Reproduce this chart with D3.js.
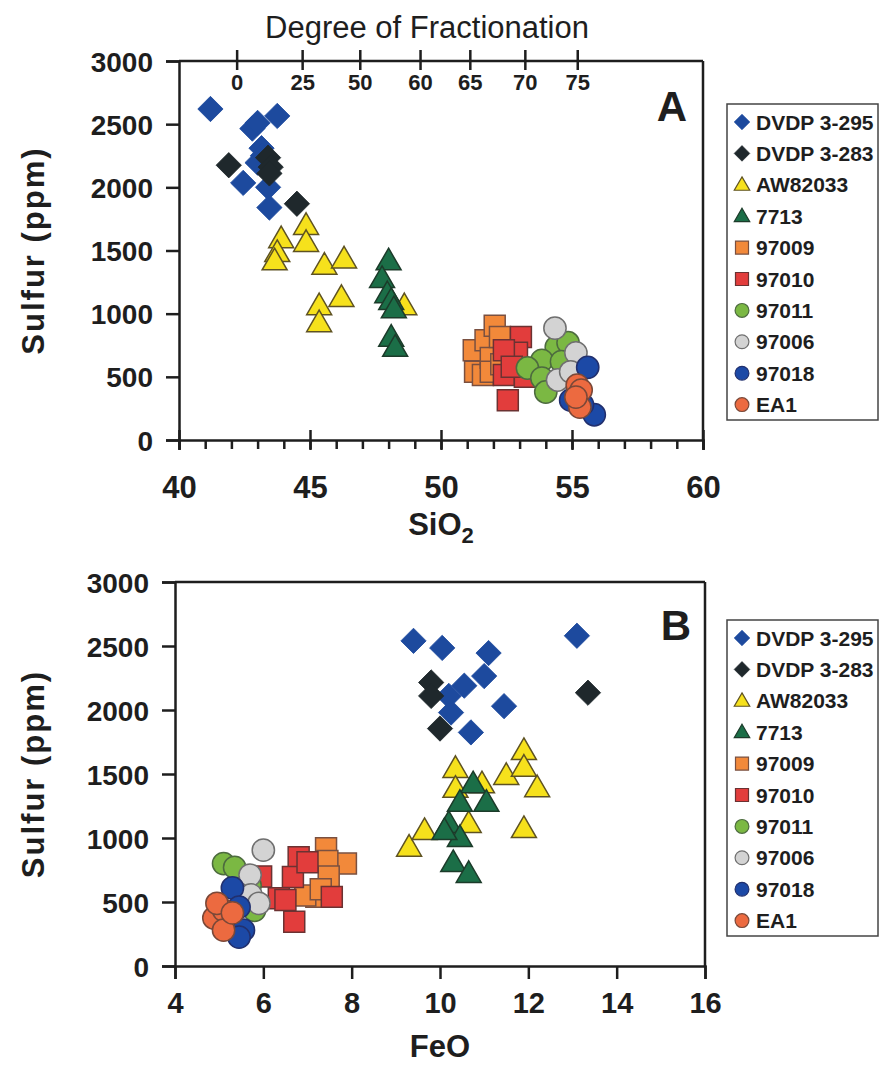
<!DOCTYPE html>
<html>
<head>
<meta charset="utf-8">
<script src="https://cdn.jsdelivr.net/npm/d3@7"></script>
<style>
  html, body { margin: 0; padding: 0; background: #ffffff; }
  svg { display: block; font-family: "Liberation Sans", Arial, Helvetica, sans-serif; }
</style>
</head>
<body>
<svg id="chart" width="880" height="1073"></svg>
<script>
// Sample series, legend order
const seriesNames = ["DVDP 3-295", "DVDP 3-283", "AW82033", "7713", "97009", "97010", "97011", "97006", "97018", "EA1"];
const seriesShapes = ["diamond", "diamond", "triangle", "triangle", "square", "square", "circle", "circle", "circle", "circle"];
const seriesFills = ["#1d4a9e", "#1f282c", "#f6e11c", "#1b6e47", "#f2893a", "#e23d3c", "#7bb843", "#d3d3d3", "#1c49a6", "#ec6a40"];
const seriesStrokes = ["#1d4a9e", "#1f282c", "#5e5222", "#1c3b2a", "#7a5040", "#6b3232", "#4d6b3f", "#6f6f6f", "#22306e", "#7a4838"];

// Panel A: [SiO2, S ppm]
const dvdp295_A = [[41.2,2620],[42.8,2465],[43.0,2510],[43.75,2565],[43.15,2310],[43.2,2250],[43.0,2195],[42.45,2035],[43.4,2000],[43.45,1840]];
const dvdp283_A = [[41.9,2175],[43.4,2235],[43.5,2160],[43.45,2110],[44.5,1870]];
const aw82033_A = [[44.85,1700],[44.85,1565],[43.9,1595],[43.75,1485],[43.65,1420],[45.55,1385],[46.3,1435],[46.2,1130],[45.35,1065],[45.35,930],[48.6,1065]];
const s7713_A = [[48.0,1420],[47.75,1280],[47.95,1160],[48.1,1105],[48.2,1040],[48.1,815],[48.25,735]];
const s97009_A = [[51.25,710],[51.3,540],[51.6,515],[51.7,790],[51.9,650],[52.05,905],[52.25,815],[51.9,540],[52.3,600]];
const s97010_A = [[53.05,815],[52.9,690],[52.4,710],[52.4,515],[53.2,500],[52.55,315],[52.7,580]];
const s97011_A = [[54.4,735],[54.85,770],[53.85,630],[53.3,570],[53.85,490],[54.0,380],[54.6,620]];
const s97006_A = [[54.35,885],[55.15,690],[54.45,475],[54.95,540]];
const s97018_A = [[55.6,575],[54.95,315],[55.85,200],[55.4,280]];
const ea1_A = [[55.2,435],[55.35,395],[55.3,260],[55.15,340]];

// Panel B: [FeO, S ppm]
const dvdp295_B = [[9.4,2540],[10.05,2485],[11.1,2445],[11.0,2265],[10.55,2190],[10.2,2110],[10.25,1980],[11.45,2030],[10.7,1825],[13.1,2580]];
const dvdp283_B = [[9.8,2215],[9.8,2110],[10.0,1855],[13.35,2135]];
const aw82033_B = [[9.3,930],[9.65,1060],[10.35,1545],[10.35,1390],[10.95,1425],[10.65,1115],[11.5,1490],[11.9,1685],[11.9,1555],[12.2,1395],[11.9,1075]];
const s7713_B = [[10.75,1425],[11.05,1280],[10.45,1280],[10.2,1115],[10.45,1005],[10.3,810],[10.65,725],[10.1,1060]];
const s97009_B = [[7.42,920],[7.87,800],[7.45,820],[7.48,700],[7.2,540],[6.95,550],[7.3,600]];
const s97010_B = [[6.8,850],[6.67,695],[7.0,810],[6.35,530],[6.5,515],[6.7,345],[7.55,540],[5.95,700]];
const s97011_B = [[5.1,800],[5.35,770],[5.7,630],[5.8,435]];
const s97006_B = [[6.0,905],[5.7,710],[5.72,555],[5.9,490]];
const s97018_B = [[5.3,610],[5.45,460],[5.55,280],[5.45,225]];
const ea1_B = [[4.88,375],[5.1,435],[5.1,280],[4.95,490],[5.3,415]];

// Axis ticks
const sulfurTicks = [0, 500, 1000, 1500, 2000, 2500, 3000];
const sio2Ticks = [40, 45, 50, 55, 60];
const feoTicks = [4, 6, 8, 10, 12, 14, 16];
const fracTicks = [0, 25, 50, 60, 65, 70, 75];
const fracSiO2 = [42.2, 44.7, 46.9, 49.2, 51.1, 53.2, 55.2];

const seriesA = [dvdp295_A, dvdp283_A, aw82033_A, s7713_A, s97009_A, s97010_A, s97011_A, s97006_A, s97018_A, ea1_A];
const seriesB = [dvdp295_B, dvdp283_B, aw82033_B, s7713_B, s97009_B, s97010_B, s97011_B, s97006_B, s97018_B, ea1_B];

const svg = d3.select("#chart");
const ink = "#1e1e1e";

function symbolPath(shape, scale) {
  const k = scale || 1;
  if (shape === "diamond") return d3.symbol(d3.symbolSquare, 320 * k * k)();
  if (shape === "triangle") return d3.symbol(d3.symbolTriangle, 270 * k * k)();
  if (shape === "square") return d3.symbol(d3.symbolSquare, 440 * k * k)();
  return d3.symbol(d3.symbolCircle, 390 * k * k)();
}
function symbolTransform(shape, x, y) {
  if (shape === "diamond") return `translate(${x},${y}) rotate(45)`;
  if (shape === "triangle") return `translate(${x},${y + 2})`;
  return `translate(${x},${y})`;
}

function drawPanel(cfg) {
  const g = svg.append("g");
  const x = cfg.x, y = cfg.y;
  const [x0, x1] = x.range();
  const [y0, y1] = y.range();

  // frame: top and right lines
  g.append("line").attr("x1", x0).attr("x2", x1).attr("y1", y1).attr("y2", y1)
    .attr("stroke", ink).attr("stroke-width", 2.5);
  g.append("line").attr("x1", x1).attr("x2", x1).attr("y1", y1).attr("y2", y0)
    .attr("stroke", ink).attr("stroke-width", 2.5);

  // left axis
  const yAxis = d3.axisLeft(y).tickValues(sulfurTicks).tickSize(13).tickPadding(13).tickFormat(d3.format("d"));
  const ya = g.append("g").attr("transform", `translate(${x0},0)`).call(yAxis);
  ya.select(".domain").attr("stroke", ink).attr("stroke-width", 2.5);
  ya.selectAll(".tick line").attr("stroke", ink).attr("stroke-width", 2.5);
  ya.selectAll(".tick text").attr("fill", ink).attr("font-size", 28).attr("font-weight", "bold")
    .attr("font-family", "Liberation Sans, Arial, sans-serif").attr("dy", "0.36em");

  // bottom axis
  if (cfg.minor) {
    const minorAxis = d3.axisBottom(x).tickValues(d3.range(x.domain()[0], x.domain()[1] + 0.5, 1)).tickSize(9).tickFormat("");
    const mi = g.append("g").attr("transform", `translate(0,${y0})`).call(minorAxis);
    mi.select(".domain").remove();
    mi.selectAll(".tick line").attr("stroke", ink).attr("stroke-width", 2.5);
  }
  const xAxis = d3.axisBottom(x).tickValues(cfg.xTicks).tickSize(cfg.minor ? 10 : 13)
    .tickPadding(cfg.xPad).tickFormat(d3.format("d"));
  const xa = g.append("g").attr("transform", `translate(0,${y0})`).call(xAxis);
  xa.select(".domain").attr("stroke", ink).attr("stroke-width", 2.5);
  xa.selectAll(".tick line").attr("stroke", ink).attr("stroke-width", 2.5)
    .attr("y1", cfg.minor ? -10 : 0);
  xa.selectAll(".tick text").attr("fill", ink).attr("font-size", cfg.xFont).attr("font-weight", "bold")
    .attr("font-family", "Liberation Sans, Arial, sans-serif");

  // axis titles
  svg.append("text")
    .attr("transform", `translate(33,${(y0 + y1) / 2}) rotate(-90)`)
    .attr("text-anchor", "middle").attr("dy", "0.35em")
    .attr("font-size", 31).attr("font-weight", "bold").attr("letter-spacing", 2).attr("fill", ink)
    .text("Sulfur (ppm)");
  const xt = svg.append("text")
    .attr("x", (x0 + x1) / 2).attr("y", cfg.xTitleY)
    .attr("text-anchor", "middle")
    .attr("font-size", 31).attr("font-weight", "bold").attr("fill", ink);
  xt.append("tspan").text(cfg.xTitle);
  if (cfg.xSub) xt.append("tspan").attr("font-size", 22).attr("dy", 8).text(cfg.xSub);

  // panel letter
  svg.append("text").attr("x", cfg.letterX).attr("y", cfg.letterY)
    .attr("text-anchor", "middle").attr("font-size", 42).attr("font-weight", "bold").attr("fill", ink)
    .text(cfg.letter);

  // points
  cfg.data.forEach((pts, i) => {
    const shape = seriesShapes[i];
    g.append("g").selectAll("path").data(pts).join("path")
      .attr("d", symbolPath(shape))
      .attr("transform", d => symbolTransform(shape, x(d[0]), y(d[1])))
      .attr("fill", seriesFills[i])
      .attr("stroke", seriesStrokes[i])
      .attr("stroke-width", shape === "diamond" ? 0.8 : 1.5);
  });

  // legend
  const lg = svg.append("g").attr("transform", `translate(727,${cfg.legendTop})`);
  lg.append("rect").attr("x", 0).attr("y", 0).attr("width", 151).attr("height", 316)
    .attr("fill", "#ffffff").attr("stroke", "#444444").attr("stroke-width", 1.5);
  seriesNames.forEach((name, i) => {
    const ry = 18 + i * 31.4;
    const shape = seriesShapes[i];
    lg.append("path").attr("d", symbolPath(shape, 0.62))
      .attr("transform", symbolTransform(shape, 15, ry - (shape === "triangle" ? 1 : 0)))
      .attr("fill", seriesFills[i]).attr("stroke", seriesStrokes[i]).attr("stroke-width", shape === "diamond" ? 0.6 : 1.2);
    lg.append("text").attr("x", 29).attr("y", ry).attr("dy", "0.36em")
      .attr("font-size", 21).attr("font-weight", "bold").attr("fill", ink)
      .text(name);
  });
}

// Panel A: sulfur vs SiO2
const xA = d3.scaleLinear().domain([40, 60]).range([179, 703]);
const yA = d3.scaleLinear().domain([0, 3000]).range([440, 61]);
drawPanel({
  x: xA, y: yA, xTicks: sio2Ticks, minor: true, data: seriesA, xPad: 26, xFont: 31,
  xTitle: "SiO", xSub: "2", xTitleY: 535, letter: "A", letterX: 672, letterY: 121, legendTop: 104
});

// Degree of fractionation along the top of panel A
const fracScale = d3.scaleLinear().domain(fracTicks).range(fracSiO2.map(xA));
const fa = svg.append("g").attr("transform", `translate(0,${yA(3000)})`)
  .call(d3.axisBottom(fracScale).tickValues(fracTicks).tickSize(9).tickPadding(4).tickFormat(d3.format("d")));
fa.select(".domain").remove();
fa.selectAll(".tick line").attr("y1", -11).attr("stroke", ink).attr("stroke-width", 2.5);
fa.selectAll(".tick text").attr("fill", ink).attr("font-size", 22).attr("font-weight", "bold")
  .attr("font-family", "Liberation Sans, Arial, sans-serif");
svg.append("text").attr("x", 427).attr("y", 38).attr("text-anchor", "middle")
  .attr("font-size", 31).attr("fill", ink).text("Degree of Fractionation");

// Panel B: sulfur vs FeO
const xB = d3.scaleLinear().domain([4, 16]).range([175, 705]);
const yB = d3.scaleLinear().domain([0, 3000]).range([966, 582]);
drawPanel({
  x: xB, y: yB, xTicks: feoTicks, minor: false, data: seriesB, xPad: 13, xFont: 29,
  xTitle: "FeO", xSub: null, xTitleY: 1057, letter: "B", letterX: 676, letterY: 640, legendTop: 620
});
</script>
</body>
</html>
